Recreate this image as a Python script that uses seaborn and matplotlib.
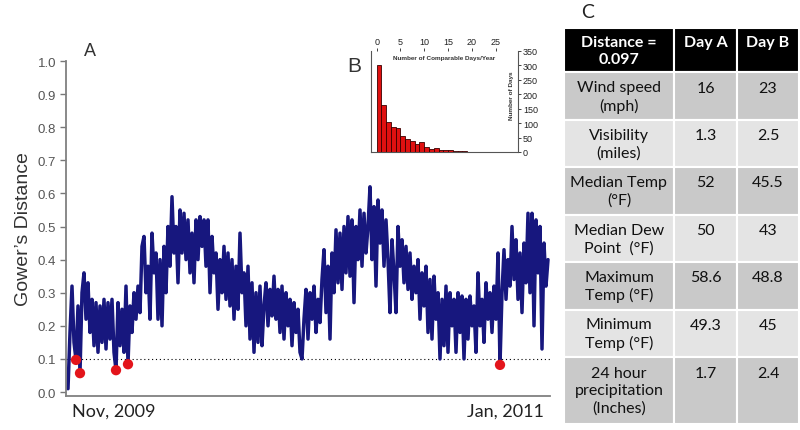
import numpy as np
import matplotlib
matplotlib.use("Agg")
import matplotlib.pyplot as plt
import seaborn as sns

# daily Gower's distance (2 px per sample)
gower = [
    0.01, 0.18, 0.32, 0.15, 0.097, 0.26, 0.057, 0.30, 0.36, 0.22,
    0.33, 0.18, 0.28, 0.14, 0.27, 0.12, 0.26, 0.15, 0.28, 0.13,
    0.27, 0.16, 0.28, 0.12, 0.066, 0.27, 0.14, 0.25, 0.12, 0.32,
    0.084, 0.26, 0.18, 0.30, 0.22, 0.32, 0.24, 0.44, 0.47, 0.30,
    0.38, 0.22, 0.48, 0.36, 0.42, 0.22, 0.40, 0.20, 0.44, 0.30,
    0.50, 0.38, 0.59, 0.42, 0.50, 0.33, 0.55, 0.42, 0.54, 0.40,
    0.52, 0.36, 0.48, 0.33, 0.52, 0.40, 0.53, 0.44, 0.52, 0.38,
    0.52, 0.30, 0.47, 0.36, 0.42, 0.25, 0.40, 0.30, 0.44, 0.28,
    0.42, 0.26, 0.40, 0.22, 0.38, 0.25, 0.48, 0.30, 0.36, 0.20,
    0.38, 0.16, 0.33, 0.12, 0.30, 0.15, 0.32, 0.14, 0.26, 0.33,
    0.20, 0.31, 0.23, 0.35, 0.22, 0.31, 0.18, 0.32, 0.16, 0.30,
    0.20, 0.28, 0.14, 0.27, 0.18, 0.25, 0.12, 0.10, 0.22, 0.31,
    0.16, 0.30, 0.22, 0.32, 0.18, 0.28, 0.21, 0.34, 0.43, 0.24,
    0.38, 0.16, 0.42, 0.30, 0.49, 0.33, 0.48, 0.31, 0.50, 0.36,
    0.53, 0.35, 0.52, 0.27, 0.50, 0.40, 0.55, 0.38, 0.54, 0.42,
    0.50, 0.62, 0.40, 0.56, 0.32, 0.58, 0.45, 0.55, 0.38, 0.52,
    0.40, 0.24, 0.46, 0.36, 0.24, 0.50, 0.38, 0.46, 0.33, 0.44,
    0.31, 0.42, 0.28, 0.38, 0.30, 0.40, 0.22, 0.36, 0.26, 0.38,
    0.18, 0.34, 0.16, 0.35, 0.22, 0.30, 0.10, 0.28, 0.14, 0.32,
    0.12, 0.30, 0.20, 0.28, 0.12, 0.30, 0.18, 0.29, 0.10, 0.28,
    0.16, 0.29, 0.20, 0.26, 0.12, 0.36, 0.20, 0.28, 0.15, 0.33,
    0.22, 0.30, 0.18, 0.32, 0.22, 0.42, 0.082, 0.30, 0.43, 0.28,
    0.40, 0.32, 0.50, 0.34, 0.46, 0.28, 0.42, 0.24, 0.45, 0.33,
    0.54, 0.30, 0.54, 0.20, 0.52, 0.36, 0.50, 0.13, 0.45, 0.32,
    0.40,
]
red_days = [4, 6, 24, 30, 216]
red_vals = [0.097, 0.057, 0.066, 0.084, 0.082]
threshold = 0.1
date_ticks = [22.75, 218.5]
date_labels = ["Nov, 2009", "Jan, 2011"]

# inset histogram
comp_days = list(range(20))
n_days = [300, 161, 104, 88, 84, 54, 45, 38, 26, 33,
          16, 12, 14, 8, 6, 7, 4, 3, 4, 1]

# table
table_header = ["Distance =\n0.097", "Day A", "Day B"]
table_vars = ["Wind speed\n(mph)", "Visibility\n(miles)", "Median Temp\n(°F)",
              "Median Dew\nPoint  (°F)", "Maximum\nTemp (°F)", "Minimum\nTemp (°F)",
              "24 hour\nprecipitation\n(Inches)"]
day_a = ["16", "1.3", "52", "50", "58.6", "49.3", "1.7"]
day_b = ["23", "2.5", "45.5", "43", "48.8", "45", "2.4"]

sns.set_style("ticks")
plt.rcParams["font.family"] = ["Liberation Sans", "DejaVu Sans"]

fig = plt.figure(figsize=(8, 4.31), dpi=100)

# ---- panel A
ax = fig.add_axes([66 / 800, 34 / 431, 484 / 800, 335 / 431])
days = np.arange(len(gower))
sns.lineplot(x=days, y=gower, color="#17177e", lw=2.5, ax=ax)
ax.axhline(threshold, color="black", ls=(0, (1, 2.5)), lw=0.8, zorder=1)
sns.scatterplot(x=red_days, y=red_vals, color="#e3141b", s=55,
                edgecolor="none", ax=ax, zorder=5)
ax.set_xlim(-1, 241)
ax.set_ylim(-0.012, 1.0)
ax.set_yticks(np.arange(0, 1.01, 0.1))
ax.set_yticklabels([f"{v:.1f}" for v in np.arange(0, 1.01, 0.1)])
ax.set_xticks(date_ticks)
ax.set_xticklabels(date_labels, family=["Lato", "DejaVu Sans"], fontsize=13, color="#222222")
ax.tick_params(axis="x", length=0, pad=5)
ax.tick_params(axis="y", length=4, width=1, color="#777777", labelsize=9.5,
               labelcolor="#555555", pad=3)
for s in ["top", "right"]:
    ax.spines[s].set_visible(False)
for s in ["left", "bottom"]:
    ax.spines[s].set_color("#808080")
    ax.spines[s].set_linewidth(1.3)
ax.set_ylabel("Gower’s Distance", fontsize=14, color="#333333", labelpad=4)
fig.text(90 / 800, 1 - 52 / 431, "A", fontsize=13, ha="center", va="center", color="#333333")

# ---- panel B (inset)
ins = fig.add_axes([370.7 / 800, 278 / 431, 147.3 / 800, 101.3 / 431])
sns.histplot(x=comp_days, weights=n_days, bins=range(21), color="#e01010",
             edgecolor="#3a0000", linewidth=0.6, alpha=1, ax=ins)
ins.set_xlim(-1.25, 29.7)
ins.set_ylim(0, 350)
ins.xaxis.tick_top()
ins.yaxis.tick_right()
ins.set_xticks(range(0, 30, 5))
ins.set_yticks(range(0, 351, 50))
ins.tick_params(labelsize=6.5, length=2, width=0.6, pad=1.5, colors="#222222")
ins.set_xlabel("")
ins.set_ylabel("")
ins.spines["top"].set_visible(False)
for s in ["left", "right", "bottom"]:
    ins.spines[s].set_visible(True)
    ins.spines[s].set_color("#555555")
    ins.spines[s].set_linewidth(0.8)
ins.text(0.5, 0.93, "Number of Comparable Days/Year", transform=ins.transAxes,
         fontsize=4.6, fontweight="bold", ha="center", va="center", color="#333333")
ins.text(0.957, 0.57, "Number of Days", transform=ins.transAxes, rotation=90,
         fontsize=4.6, fontweight="bold", ha="center", va="center", color="#333333")
fig.text(354 / 800, 1 - 67 / 431, "B", fontsize=15, ha="center", va="center", color="#333333")

# ---- panel C (table)
n_head = table_header[0].count("\n")
rows = [[table_header[0]] + [h + "\n" * n_head for h in table_header[1:]]]
for var, a, b in zip(table_vars, day_a, day_b):
    pad = "\n" * var.count("\n")
    rows.append([var, a + pad, b + pad])

tax = fig.add_axes([564 / 800, 6 / 431, 235 / 800, 396 / 431])
tax.axis("off")
tbl = tax.table(cellText=rows, colWidths=[110, 63, 62], cellLoc="center", bbox=[0, 0, 1, 1])
tbl.auto_set_font_size(False)
tbl.set_fontsize(11.5)
heights = [44, 47, 47, 47, 47, 47, 47, 66]
for (r, c), cell in tbl.get_celld().items():
    cell.set_height(heights[r])
    cell.set_edgecolor("white")
    cell.set_linewidth(1.5)
    txt = cell.get_text()
    txt.set_family(["Lato", "DejaVu Sans"])
    txt.set_linespacing(1.3)
    if r == 0:
        cell.set_facecolor("black")
        txt.set_color("white")
        txt.set_fontweight("bold")
    else:
        cell.set_facecolor("#c9c9c9" if r % 2 == 1 else "#e4e4e4")
        txt.set_color("#111111")
fig.text(588 / 800, 1 - 12 / 431, "C", fontsize=14, family=["Lato", "DejaVu Sans"],
         ha="center", va="center", color="#222222")

fig.savefig("out.png", dpi=100)
